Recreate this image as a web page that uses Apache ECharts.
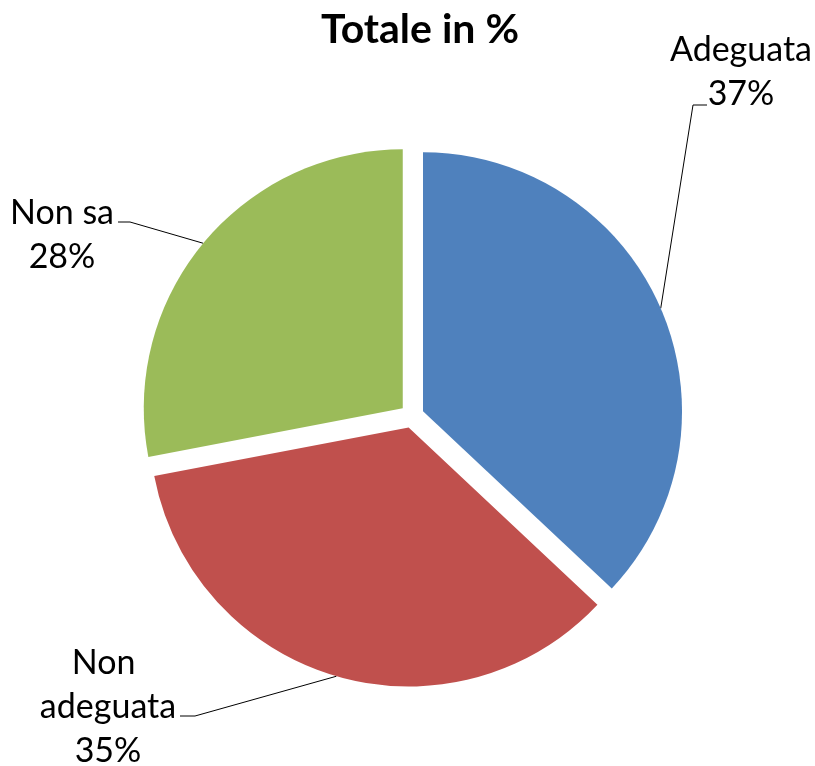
<!DOCTYPE html>
<html lang="it">
<head>
    <meta charset="UTF-8">
    <title>Totale in %</title>
    <script src="https://cdn.jsdelivr.net/npm/echarts@6/dist/echarts.min.js"></script>
    <style>
        html, body { margin: 0; padding: 0; background: #fff; }
        #chart { width: 815px; height: 766px; }
    </style>
</head>
<body>
<div id="chart"></div>
<script>
    // dati del grafico
    const categorie = ['Adeguata', 'Non adeguata', 'Non sa'];
    const valori = [37, 35, 28];
    const colori = ['#4F81BD', '#C0504D', '#9BBB59'];

    // stile: centro, raggio, esplosione delle fette
    const centro = [412, 416];
    const raggio = 259;
    const esplosione = 12;
    // etichette: centro del testo, gomito e fine della linea guida
    const posEtichette = [[741, 72], [108, 707], [62, 235]];
    const gomiti = [[693, 105], [195, 716], [130, 222]];
    const finiLinea = [[707, 105], [180, 716], [118, 222]];

    const totale = valori.reduce((a, b) => a + b, 0);
    // angolo medio di ogni fetta (partenza a 90°, senso orario)
    let cumulato = 0;
    const angoliMedi = valori.map(v => {
        const a = 90 - 360 * (cumulato + v / 2) / totale;
        cumulato += v;
        return a * Math.PI / 180;
    });

    const chart = echarts.init(document.getElementById('chart'));

    // una serie per fetta, spostata lungo la bisettrice (effetto "esploso")
    const serie = categorie.map((nome, i) => {
        const c = [
            centro[0] + esplosione * Math.cos(angoliMedi[i]),
            centro[1] - esplosione * Math.sin(angoliMedi[i])
        ];
        const bordo = [c[0] + raggio * Math.cos(angoliMedi[i]), c[1] - raggio * Math.sin(angoliMedi[i])];
        return {
            type: 'pie',
            silent: true,
            center: c,
            radius: raggio,
            startAngle: 90,
            clockwise: true,
            emphasis: {disabled: true},
            data: categorie.map((n, j) => ({
                name: n,
                value: valori[j],
                itemStyle: {color: j === i ? colori[j] : 'rgba(0,0,0,0)'},
                label: {show: j === i},
                labelLine: {show: j === i}
            })),
            label: {
                formatter: '{b}\n{d}%',
                fontFamily: 'Lato',
                fontSize: 34,
                lineHeight: 44,
                color: '#000',
                align: 'center',
                width: 150,
                overflow: 'break'
            },
            labelLine: {
                lineStyle: {color: '#000', width: 1}
            },
            labelLayout: function (params) {
                if (params.dataIndex !== i) return {};
                const p = posEtichette[i];
                return {
                    x: p[0], y: p[1], align: 'center', verticalAlign: 'middle',
                    labelLinePoints: [bordo, gomiti[i], finiLinea[i]]
                };
            }
        };
    });

    const option = {
        animation: false,
        title: {
            text: 'Totale in %',
            left: 316,
            top: 4,
            textStyle: {fontFamily: 'Lato', fontWeight: 'bold', fontSize: 41, color: '#000'}
        },
        series: serie
    };

    chart.setOption(option);
</script>
</body>
</html>
